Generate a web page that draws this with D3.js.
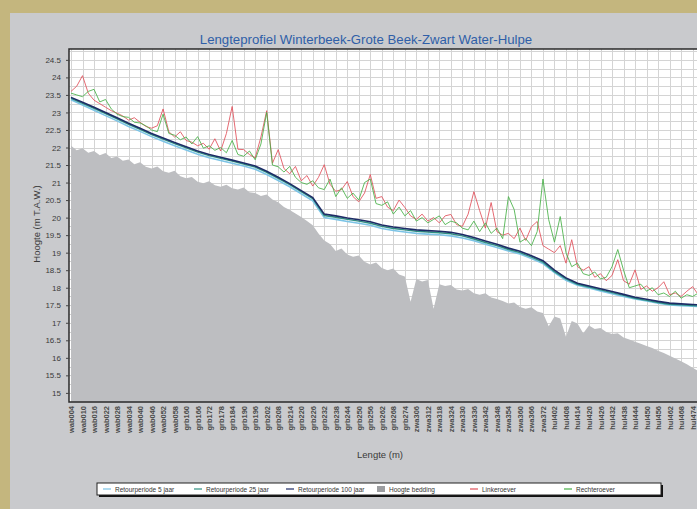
<!DOCTYPE html>
<html>
<head>
<meta charset="utf-8">
<script src="https://cdn.jsdelivr.net/npm/d3@7/dist/d3.min.js"></script>
<style>
  html, body { margin: 0; padding: 0; background: #c4b67e; }
  svg { display: block; font-family: "Liberation Sans", Arial, sans-serif; }
</style>
</head>
<body>
<svg id="chart" width="697" height="509"></svg>
<script>
// Profile codes along the watercourse (x axis tick labels)
const profiles = [
  "wab004","wab010","wab016","wab022","wab028","wab034","wab040","wab046","wab052","wab058",
  "grb160","grb166","grb172","grb178","grb184","grb190","grb196","grb202","grb208","grb214",
  "grb220","grb226","grb232","grb238","grb244","grb250","grb256","grb262","grb268","grb274",
  "zwa306","zwa312","zwa318","zwa324","zwa330","zwa336","zwa342","zwa348","zwa354","zwa360",
  "zwa366","zwa372","hul402","hul408","hul414","hul420","hul426","hul432","hul438","hul444",
  "hul450","hul456","hul462","hul468","hul474"
];

// Water levels per profile (m T.A.W.)
const retour100 = [
  23.43,23.29,23.15,23.00,22.85,22.69,22.55,22.40,22.27,22.14,22.02,21.90,21.80,21.72,21.64,21.56,
  21.47,21.32,21.15,20.97,20.77,20.57,20.10,20.05,19.99,19.94,19.88,19.79,19.73,19.69,19.65,19.63,
  19.61,19.58,19.52,19.43,19.33,19.24,19.13,19.04,18.91,18.77,18.50,18.28,18.13,18.05,17.97,17.89,
  17.81,17.73,17.67,17.61,17.56,17.54,17.52,17.50,17.49,17.48
];
const retour25 = [
  23.40,23.26,23.12,22.97,22.82,22.66,22.52,22.37,22.24,22.11,21.99,21.87,21.77,21.69,21.61,21.53,
  21.44,21.29,21.12,20.94,20.74,20.54,20.06,20.01,19.95,19.90,19.84,19.75,19.69,19.65,19.61,19.59,
  19.57,19.54,19.48,19.39,19.29,19.20,19.09,19.00,18.87,18.73,18.46,18.25,18.10,18.02,17.94,17.86,
  17.78,17.70,17.64,17.58,17.53,17.51,17.49,17.47,17.46,17.45
];
const retour5 = [
  23.36,23.21,23.06,22.91,22.76,22.60,22.46,22.31,22.18,22.05,21.93,21.81,21.71,21.63,21.55,21.47,
  21.38,21.23,21.06,20.88,20.68,20.48,20.00,19.95,19.89,19.84,19.78,19.69,19.63,19.59,19.55,19.53,
  19.51,19.48,19.42,19.34,19.24,19.15,19.05,18.96,18.83,18.69,18.43,18.21,18.07,17.99,17.91,17.83,
  17.75,17.68,17.62,17.56,17.51,17.49,17.47,17.45,17.44,17.43
];

// Surveyed heights every half profile (m T.A.W.)
const bedding = [
  22.05,21.92,21.98,21.85,21.90,21.78,21.84,21.70,21.74,21.62,21.66,21.52,21.58,21.45,21.40,21.46,
  21.32,21.28,21.34,21.18,21.12,21.16,21.02,20.98,21.04,20.92,20.88,20.94,20.84,20.80,20.86,20.72,
  20.70,20.62,20.66,20.52,20.44,20.30,20.22,20.12,20.02,19.90,19.78,19.55,19.35,19.25,19.05,19.12,
  18.95,18.88,18.92,18.74,18.66,18.72,18.56,18.50,18.55,18.38,18.32,17.60,18.25,18.18,18.22,17.40,
  18.10,18.05,18.08,17.95,17.92,17.96,17.84,17.80,17.84,17.72,17.68,17.62,17.55,17.58,17.45,17.40,
  17.44,17.32,17.28,16.90,17.18,17.12,16.60,17.05,16.98,16.70,16.92,16.82,16.85,16.74,16.68,16.70,
  16.58,16.52,16.46,16.40,16.34,16.28,16.20,16.14,16.06,15.98,15.90,15.82,15.72,15.62,15.55,15.48,
  15.42,15.36,15.30
];
const linkeroever = [
  23.60,23.75,24.05,23.55,23.35,23.25,23.15,23.05,22.98,22.90,22.78,22.85,22.72,22.60,22.55,22.62,
  23.10,22.45,22.30,22.45,22.20,22.15,22.05,22.12,21.95,22.25,21.90,22.40,23.17,21.95,21.94,21.80,
  21.70,22.30,23.05,21.55,21.94,21.40,21.25,21.46,21.05,21.20,20.90,21.15,21.51,20.95,20.75,20.80,
  21.03,20.60,20.45,20.70,21.23,20.55,20.60,20.30,20.20,20.50,20.29,20.05,19.95,20.10,19.90,20.00,
  19.85,20.05,20.09,19.80,19.75,20.10,20.74,20.20,19.70,20.43,19.60,19.50,19.55,19.40,19.70,19.35,
  19.74,19.89,19.20,19.10,19.00,19.20,18.70,19.37,18.60,18.50,18.60,18.30,18.40,18.20,18.35,18.80,
  18.20,18.10,18.51,17.95,18.05,17.90,18.00,18.17,17.80,17.85,17.75,17.90,18.03,17.80,17.70,17.75,
  17.68,17.72,17.65
];
const rechteroever = [
  23.55,23.50,23.45,23.60,23.66,23.30,23.37,23.10,22.95,22.88,22.86,22.72,22.70,22.62,22.50,22.45,
  22.95,22.40,22.35,22.22,22.30,22.10,22.31,21.98,22.05,21.92,22.00,21.85,22.20,21.80,21.75,21.90,
  21.65,22.10,23.00,21.50,21.45,21.30,21.46,21.15,21.00,20.95,21.05,20.85,20.80,21.10,20.60,20.85,
  20.55,20.70,20.50,21.00,21.10,20.40,20.35,20.45,20.10,20.30,20.05,20.20,19.90,20.00,19.85,19.95,
  20.05,19.80,19.90,19.85,19.70,19.65,19.90,19.60,19.85,19.55,19.70,19.40,20.60,20.23,19.30,19.40,
  19.20,19.60,21.10,19.94,19.30,20.03,19.00,18.60,18.70,18.40,18.35,18.45,18.25,18.30,18.60,19.09,
  18.50,18.00,18.05,18.10,17.90,18.00,17.80,17.85,17.75,17.90,17.70,17.80,17.75,17.85,17.68,17.72,
  17.70,17.66,17.70
];

const yTicks = [15,15.5,16,16.5,17,17.5,18,18.5,19,19.5,20,20.5,21,21.5,22,22.5,23,23.5,24,24.5];

const legendItems = [
  { label: "Retourperiode 5 jaar", color: "#7cc4e6", type: "line", x: 103 },
  { label: "Retourperiode 25 jaar", color: "#2e8f80", type: "line", x: 194 },
  { label: "Retourperiode 100 jaar", color: "#1d2b66", type: "line", x: 286 },
  { label: "Hoogte bedding", color: "#9c9da0", type: "fill", x: 377 },
  { label: "Linkeroever", color: "#e0505a", type: "line", x: 470 },
  { label: "Rechteroever", color: "#46b046", type: "line", x: 564 }
];

const svg = d3.select("#chart");
const W = 697, H = 509;

// Panel background
svg.append("rect").attr("width", W).attr("height", H).attr("fill", "#c4b67e");
svg.append("rect").attr("x", 10).attr("y", 13).attr("width", W - 10).attr("height", H - 13)
  .attr("fill", "#c9cacd");

const plot = { left: 69, top: 49, right: 730, bottom: 402 };

// Profile index -> pixel; the profile run continues past the right edge
const x = d3.scaleLinear().domain([0, profiles.length - 1]).range([71, 692.6]);
const y = d3.scaleLinear().domain([14.74, 24.81]).range([plot.bottom, plot.top]);

svg.append("defs").append("clipPath").attr("id", "plotClip")
  .append("rect").attr("x", plot.left).attr("y", plot.top)
  .attr("width", plot.right - plot.left).attr("height", plot.bottom - plot.top);

// Plot background
svg.append("rect").attr("x", plot.left).attr("y", plot.top)
  .attr("width", plot.right - plot.left).attr("height", plot.bottom - plot.top)
  .attr("fill", "#ffffff");

const g = svg.append("g").attr("clip-path", "url(#plotClip)");

// Grid: every profile and every 0.25 m
const hGrid = d3.range(15, 24.81, 0.25);
g.append("g").selectAll("line").data(hGrid).join("line")
  .attr("x1", plot.left).attr("x2", plot.right)
  .attr("y1", d => Math.round(y(d)) + 0.5).attr("y2", d => Math.round(y(d)) + 0.5)
  .attr("stroke", "#d4d4d4").attr("stroke-width", 1);
g.append("g").selectAll("line").data(d3.range(0, retour100.length)).join("line")
  .attr("x1", d => Math.round(x(d)) + 0.5).attr("x2", d => Math.round(x(d)) + 0.5)
  .attr("y1", plot.top).attr("y2", plot.bottom)
  .attr("stroke", "#d4d4d4").attr("stroke-width", 1);

// Bed profile as filled area
const halfX = (d, i) => x(i / 2);
const bedArea = d3.area().x(halfX).y0(plot.bottom).y1(d => y(d));
g.append("path").datum(bedding).attr("d", bedArea).attr("fill", "#bdbec1");

// Water levels
const waterLine = d3.line().x((d, i) => x(i)).y(d => y(d));
g.append("path").datum(retour5).attr("d", waterLine)
  .attr("fill", "none").attr("stroke", "#7cc4e6").attr("stroke-width", 1.6);
g.append("path").datum(retour25).attr("d", waterLine)
  .attr("fill", "none").attr("stroke", "#2e8f80").attr("stroke-width", 1.4);
g.append("path").datum(retour100).attr("d", waterLine)
  .attr("fill", "none").attr("stroke", "#1d2b66").attr("stroke-width", 1.6);

// Bank heights
const bankLine = d3.line().x(halfX).y(d => y(d));
g.append("path").datum(linkeroever).attr("d", bankLine)
  .attr("fill", "none").attr("stroke", "#e0505a").attr("stroke-width", 1).attr("stroke-opacity", 0.85);
g.append("path").datum(rechteroever).attr("d", bankLine)
  .attr("fill", "none").attr("stroke", "#46b046").attr("stroke-width", 1).attr("stroke-opacity", 0.85);

// Frame
svg.append("path")
  .attr("d", `M${plot.right},${plot.top}H${plot.left}V${plot.bottom}H${plot.right}`)
  .attr("fill", "none").attr("stroke", "#2a2a2a").attr("stroke-width", 1.5);

// Y axis
const yAxis = d3.axisLeft(y).tickValues(yTicks).tickSize(3)
  .tickFormat(d => (d % 1 ? d.toFixed(1) : String(d)));
const ya = svg.append("g").attr("transform", `translate(${plot.left},0)`).call(yAxis);
ya.select(".domain").remove();
ya.selectAll("line").attr("stroke", "#444");
ya.selectAll("text").attr("font-size", 8).attr("fill", "#3a3a3a").attr("dx", -2)
  .attr("font-family", "Liberation Sans, Arial, sans-serif");

// X axis with rotated profile codes
const xa = svg.append("g").attr("transform", `translate(0,${plot.bottom})`);
xa.selectAll("text").data(profiles).join("text")
  .attr("transform", (d, i) => `translate(${x(i) + 3},4) rotate(-90)`)
  .attr("text-anchor", "end")
  .attr("font-size", 7.5).attr("font-weight", "bold").attr("fill", "#4a4a4a")
  .text(d => d);

// Titles
svg.append("text").attr("x", 366).attr("y", 44).attr("text-anchor", "middle")
  .attr("font-size", 13.2).attr("fill", "#2f5fa8").text("Lengteprofiel Winterbeek-Grote Beek-Zwart Water-Hulpe");
svg.append("text").attr("transform", "translate(40,224) rotate(-90)").attr("text-anchor", "middle")
  .attr("font-size", 9.5).attr("fill", "#3a3a3a").text("Hoogte (m T.A.W.)");
svg.append("text").attr("x", 380).attr("y", 458).attr("text-anchor", "middle")
  .attr("font-size", 9.5).attr("fill", "#3a3a3a").text("Lengte (m)");

// Legend
const lg = svg.append("g");
lg.append("rect").attr("x", 99).attr("y", 485).attr("width", 564).attr("height", 12).attr("fill", "#111");
lg.append("rect").attr("x", 97).attr("y", 483).attr("width", 564).attr("height", 12)
  .attr("fill", "#ffffff").attr("stroke", "#222").attr("stroke-width", 1);
const li = lg.selectAll("g.item").data(legendItems).join("g").attr("class", "item")
  .attr("transform", d => `translate(${d.x},489)`);
li.filter(d => d.type === "line").append("line")
  .attr("x1", 0).attr("x2", 8).attr("stroke", d => d.color).attr("stroke-width", 1.2);
li.filter(d => d.type === "fill").append("rect")
  .attr("x", 0).attr("y", -3).attr("width", 8).attr("height", 6).attr("fill", d => d.color);
li.append("text").attr("x", 12).attr("y", 2.5).attr("font-size", 6.5).attr("fill", "#333")
  .text(d => d.label);
</script>
</body>
</html>
